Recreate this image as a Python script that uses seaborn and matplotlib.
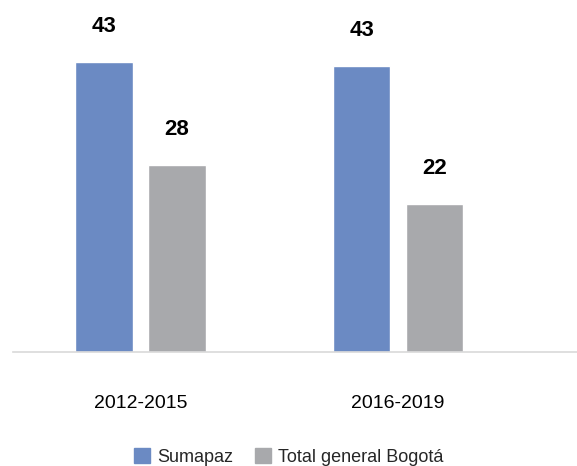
import pandas as pd
import matplotlib
matplotlib.use("Agg")
import matplotlib.pyplot as plt
import matplotlib.patches as mpatches
import seaborn as sns

# Datos
periodos = ["2012-2015", "2016-2019"]
sumapaz = [43.3, 42.7]
bogota = [27.9, 22.1]
series = ["Sumapaz", "Total general Bogotá"]

COLORES = ["#6B8AC3", "#A8A9AC"]

df = pd.DataFrame({
    "periodo": periodos * 2,
    "valor": sumapaz + bogota,
    "serie": [series[0]] * 2 + [series[1]] * 2,
})

sns.set_theme(style="white")
plt.rcParams["font.family"] = ["Liberation Sans Narrow", "Liberation Sans", "DejaVu Sans"]

fig = plt.figure(figsize=(5.77, 4.66), dpi=100)
ax = fig.add_axes([0.0225, 0.2446, 0.9775, 0.734])

sns.barplot(data=df, x="periodo", y="valor", hue="serie", palette=COLORES,
            saturation=1, width=0.567, gap=0.21, ax=ax, legend=False)

# Etiquetas sobre las barras
for cont in ax.containers:
    ax.bar_label(cont, labels=[f"{v:.0f}" for v in cont.datavalues],
                 padding=18, fontsize=16, fontweight="bold", color="black")

ax.set_xlim(-0.495, 1.695)
ax.set_ylim(0, 51)
ax.set_xlabel("")
ax.set_ylabel("")
ax.set_yticks([])
ax.tick_params(axis="x", length=0, pad=31, labelsize=14, labelcolor="black")
for s in ["top", "right", "left"]:
    ax.spines[s].set_visible(False)
ax.spines["bottom"].set_color("#D9D9D9")
ax.spines["bottom"].set_linewidth(1.2)

# Leyenda
handles = [mpatches.Patch(color=c, label=s) for c, s in zip(COLORES, series)]
fig.legend(handles=handles, loc="lower center", bbox_to_anchor=(0.5, -0.035), ncol=2,
           frameon=False, fontsize=13, handlelength=0.9, handleheight=0.9,
           handletextpad=0.4, columnspacing=1.2)

fig.savefig("out.png", dpi=100)
